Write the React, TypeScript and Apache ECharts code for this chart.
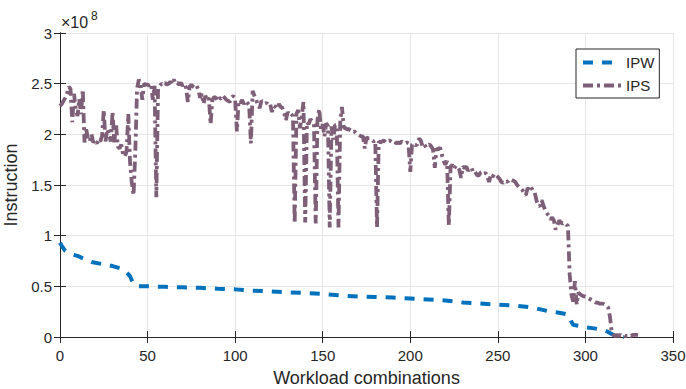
import React, { useEffect, useRef } from "react";
import * as echarts from "echarts";

// Values in units of 1e8 instructions
const ipwX = [0, 1, 3, 6, 10, 14, 18, 24, 30, 34, 37, 39, 40, 41, 42, 43, 45, 50, 60, 70, 80, 90, 100, 110, 120, 130, 140, 150, 160, 170, 180, 190, 200, 210, 220, 230, 240, 250, 260, 270, 280, 285, 289, 290, 291, 292, 293, 296, 300, 305, 310, 313, 315, 317, 320, 322];
const ipwY = [0.93, 0.90, 0.85, 0.82, 0.80, 0.77, 0.74, 0.72, 0.70, 0.68, 0.65, 0.62, 0.60, 0.56, 0.52, 0.51, 0.50, 0.50, 0.495, 0.49, 0.485, 0.476, 0.47, 0.457, 0.45, 0.44, 0.435, 0.425, 0.41, 0.40, 0.395, 0.39, 0.38, 0.37, 0.36, 0.34, 0.33, 0.32, 0.31, 0.29, 0.25, 0.24, 0.225, 0.22, 0.19, 0.15, 0.12, 0.11, 0.095, 0.085, 0.07, 0.05, 0.03, 0.01, 0.0, 0.0];

// IPS: one value per workload combination, x = 0..330
const ipsY = [
  2.28, 2.30, 2.33, 2.36, 2.40, 2.47, 2.45, 2.12, 2.40, 2.25,
  2.18, 2.35, 2.20, 2.44, 1.92, 2.05, 1.95, 1.93, 2.00, 1.92,
  1.94, 1.91, 1.95, 1.93, 1.98, 2.24, 1.93, 2.05, 2.00, 1.93,
  2.22, 1.92, 2.10, 1.88, 1.86, 1.90, 1.80, 1.78, 1.83, 2.20,
  1.72, 1.52, 1.40, 1.83, 2.45, 2.54, 2.50, 2.34, 2.50, 2.49,
  2.49, 2.48, 2.50, 2.34, 2.48, 1.38, 2.45, 2.48, 2.50, 2.49,
  2.51, 2.49, 2.50, 2.52, 2.50, 2.54, 2.50, 2.51, 2.49, 2.51,
  2.48, 2.50, 2.46, 2.32, 2.47, 2.49, 2.47, 2.46, 2.48, 2.44,
  2.36, 2.40, 2.30, 2.38, 2.34, 2.36, 2.10, 2.34, 2.37, 2.36,
  2.33, 2.36, 2.35, 2.38, 2.36, 2.34, 2.33, 2.32, 2.36, 2.38,
  2.34, 2.03, 2.33, 2.31, 2.34, 2.30, 2.33, 2.31, 2.29, 1.91,
  2.43, 2.38, 2.34, 2.29, 2.26, 2.33, 2.32, 2.30, 2.31, 2.29,
  2.30, 2.22, 2.28, 2.27, 2.25, 2.30, 2.27, 2.26, 2.21, 2.14,
  2.22, 2.19, 2.20, 2.18, 1.12, 2.20, 2.24, 2.06, 2.17, 2.32,
  1.13, 2.12, 2.10, 2.15, 2.13, 2.10, 1.12, 2.14, 2.25, 2.05,
  2.10, 1.98, 2.11, 2.08, 1.08, 2.08, 1.95, 2.09, 2.09, 1.08,
  2.12, 2.27, 2.07, 2.06, 2.05, 2.05, 2.04, 2.02, 2.03, 2.01,
  2.00, 1.99, 1.98, 1.98, 1.86, 1.97, 1.96, 1.96, 1.95, 1.93,
  1.94, 1.08, 1.93, 1.92, 1.93, 1.94, 1.92, 1.93, 1.94, 1.93,
  1.92, 1.93, 1.91, 1.92, 1.91, 1.93, 1.92, 1.91, 1.92, 1.91,
  1.63, 1.90, 1.91, 1.89, 1.90, 1.96, 1.94, 1.88, 1.90, 1.87,
  1.89, 1.90, 1.88, 1.85, 1.67, 1.86, 1.85, 1.87, 1.80, 1.74,
  1.70, 1.74, 1.10, 1.68, 1.70, 1.66, 1.69, 1.68, 1.65, 1.57,
  1.68, 1.67, 1.68, 1.64, 1.66, 1.67, 1.62, 1.63, 1.60, 1.59,
  1.62, 1.63, 1.61, 1.62, 1.58, 1.53, 1.60, 1.58, 1.61, 1.60,
  1.58, 1.56, 1.53, 1.52, 1.54, 1.53, 1.54, 1.56, 1.55, 1.54,
  1.53, 1.50, 1.48, 1.47, 1.45, 1.42, 1.40, 1.47, 1.45, 1.48,
  1.44, 1.43, 1.35, 1.30, 1.29, 1.35, 1.30, 1.25, 1.22, 1.20,
  1.16, 1.18, 1.15, 1.06, 1.10, 1.15, 1.13, 1.12, 1.13, 1.11,
  1.10, 0.62, 0.42, 0.35, 0.55, 0.32, 0.44, 0.42, 0.41, 0.40,
  0.40, 0.39, 0.38, 0.37, 0.36, 0.35, 0.34, 0.34, 0.33, 0.33,
  0.33, 0.32, 0.31, 0.29, 0.20, 0.05, 0.02, 0.01, 0.02, 0.01,
  0.02, 0.01, 0.02, 0.01, 0.01, 0.02, 0.01, 0.02, 0.02, 0.02, 0.02,
];
const ipsX = ipsY.map((_, i) => i);

const seriesNames = ["IPW", "IPS"];
const xName = "Workload combinations";
const yName = "Instruction";

const FONT = "'Liberation Sans', Arial, Helvetica, sans-serif";
const INK = "#262626";

export default function App() {
  const ref = useRef<HTMLDivElement>(null);
  useEffect(() => {
    if (!ref.current) return;
    const chart = echarts.init(ref.current, undefined, { renderer: "svg" });
    const axisCommon = {
      axisLine: { show: true, lineStyle: { color: INK, width: 1 } },
      axisTick: { show: true, inside: true, length: 6, lineStyle: { color: INK } },
    };
    chart.setOption({
      animation: false,
      backgroundColor: "#ffffff",
      textStyle: { fontFamily: FONT },
      grid: { left: 60, right: 13, top: 33, bottom: 52, outerBoundsMode: "none", containLabel: false },
      legend: {
        data: seriesNames,
        orient: "vertical",
        left: 576,
        top: 49,
        padding: [6, 5, 5, 5],
        itemWidth: 38,
        itemHeight: 14,
        itemGap: 8,
        borderColor: INK,
        borderWidth: 1,
        backgroundColor: "#ffffff",
        itemStyle: { opacity: 0, borderWidth: 0 },
        lineStyle: { width: 4 },
        textStyle: { color: INK, fontSize: 15, fontFamily: FONT },
      },
      xAxis: [
        {
          type: "value",
          min: 0,
          max: 350,
          interval: 50,
          name: xName,
          nameLocation: "middle",
          nameGap: 32,
          nameTextStyle: { color: INK, fontSize: 18, fontFamily: FONT },
          ...axisCommon,
          axisLabel: { color: INK, fontSize: 15, margin: 11, fontFamily: FONT },
          splitLine: { show: true, lineStyle: { color: "#e6e6e6", width: 1 } },
        },
        {
          type: "value",
          position: "top",
          min: 0,
          max: 350,
          interval: 50,
          ...axisCommon,
          axisLabel: { show: false },
          splitLine: { show: false },
        },
      ],
      yAxis: [
        {
          type: "value",
          min: 0,
          max: 3,
          interval: 0.5,
          name: yName,
          nameLocation: "middle",
          nameGap: 36,
          nameTextStyle: { color: INK, fontSize: 18, fontFamily: FONT },
          ...axisCommon,
          axisLabel: { color: INK, fontSize: 15, margin: 8, fontFamily: FONT },
          splitLine: { show: true, lineStyle: { color: "#e6e6e6", width: 1 } },
        },
        {
          type: "value",
          position: "right",
          min: 0,
          max: 3,
          interval: 0.5,
          ...axisCommon,
          axisLabel: { show: false },
          splitLine: { show: false },
        },
      ],
      graphic: [
        {
          type: "text",
          x: 61,
          y: 30,
          style: {
            text: "×10",
            font: "16px 'Liberation Sans', Arial, sans-serif",
            fontSize: 16,
            fontFamily: FONT,
            fill: INK,
            textVerticalAlign: "bottom",
            verticalAlign: "bottom",
          },
        },
        {
          type: "text",
          x: 91,
          y: 22,
          style: {
            text: "8",
            font: "12px 'Liberation Sans', Arial, sans-serif",
            fontSize: 12,
            fontFamily: FONT,
            fill: INK,
            textVerticalAlign: "bottom",
            verticalAlign: "bottom",
          },
        },
      ],
      series: [
        {
          name: seriesNames[0],
          type: "line",
          xAxisIndex: 0,
          yAxisIndex: 0,
          symbol: "none",
          showSymbol: false,
          data: ipwX.map((x, i) => [x, ipwY[i]]),
          lineStyle: { color: "#0072BD", width: 4, type: [10, 9] },
          itemStyle: { color: "#0072BD" },
          z: 2,
        },
        {
          name: seriesNames[1],
          type: "line",
          xAxisIndex: 0,
          yAxisIndex: 0,
          symbol: "none",
          showSymbol: false,
          data: ipsX.map((x, i) => [x, ipsY[i]]),
          lineStyle: { color: "#7E5F78", width: 3.8, type: [10, 4, 3, 4] },
          itemStyle: { color: "#7E5F78" },
          z: 3,
        },
      ],
    });
    return () => chart.dispose();
  }, []);
  return <div ref={ref} style={{ position: "absolute", left: 0, top: 0, width: 686, height: 389 }} />;
}
